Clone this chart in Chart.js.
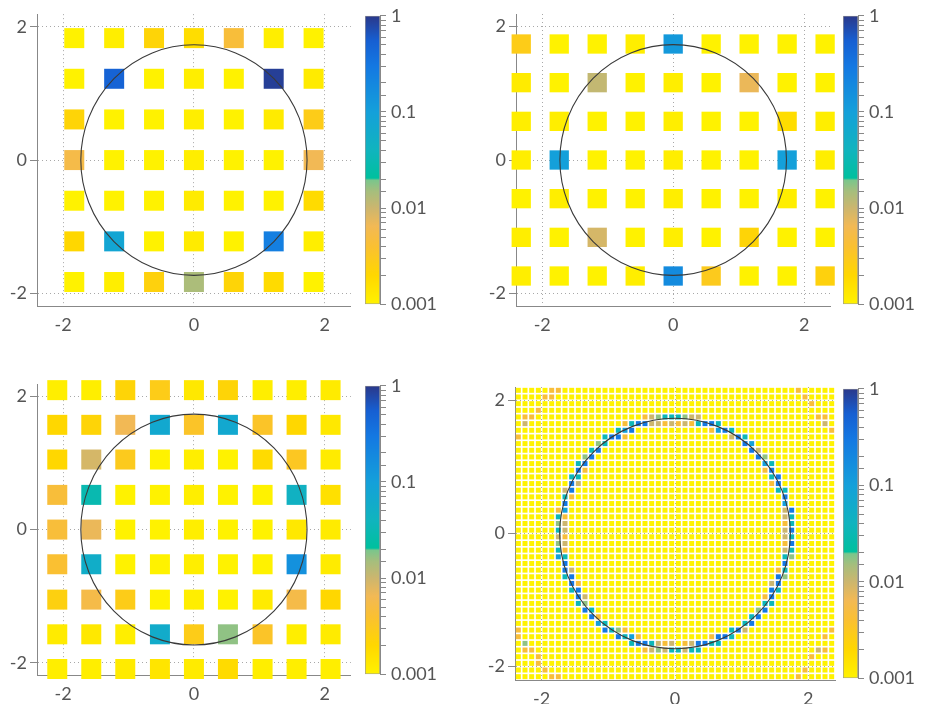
<!DOCTYPE html>
<html>

<head>
    <meta charset="UTF-8">
    <title>Mapas de error</title>
    <script src="https://cdn.jsdelivr.net/npm/chart.js@4.4.1/dist/chart.umd.min.js"></script>
    <style>
        body { margin: 0; background: #fff; width: 926px; height: 704px; overflow: hidden; position: relative; }
        canvas { position: absolute; }
    </style>
</head>

<body>
    <canvas id="m1" width="365" height="352" style="left:0px;top:0px"></canvas>
    <canvas id="c1" width="83" height="320" style="left:365px;top:0px"></canvas>
    <canvas id="m2" width="365" height="352" style="left:479px;top:0px"></canvas>
    <canvas id="c2" width="83" height="320" style="left:843px;top:0px"></canvas>
    <canvas id="m3" width="365" height="334" style="left:0px;top:370px"></canvas>
    <canvas id="c3" width="83" height="320" style="left:365px;top:370px"></canvas>
    <canvas id="m4" width="365" height="331" style="left:478px;top:373px"></canvas>
    <canvas id="c4" width="83" height="321" style="left:843px;top:373px"></canvas>

    <script>
        // colour scale (log), values and colours of the stops
        var cmapValues = [0.001, 0.002, 0.004, 0.0065, 0.01, 0.015, 0.0195, 0.0205, 0.04, 0.1, 0.3, 0.55, 1];
        var cmapColors = [[255, 242, 0], [255, 215, 0], [250, 192, 50], [242, 185, 85], [204, 182, 110], [165, 190, 125],
            [122, 198, 140], [0, 192, 158], [16, 180, 190], [20, 160, 218], [20, 120, 226], [22, 95, 210], [42, 56, 138]];
        var cbTicks = [1, 0.1, 0.01, 0.001];
        var axisTicks = [-2, -1, 0, 1, 2];
        var circleRadius = 1.73;

        // panel 1: 7 x 7
        var p1X = [-1.83, -1.22, -0.61, 0, 0.61, 1.22, 1.83];
        var p1Y = [1.83, 1.22, 0.61, 0, -0.61, -1.22, -1.83];
        var p1Values = [
            [0.001, 0.0011, 0.0022, 0.0017, 0.0045, 0.0011, 0.001],
            [0.001, 0.5, 0.001, 0.0011, 0.001, 0.9, 0.0012],
            [0.0022, 0.001, 0.001, 0.0011, 0.001, 0.0012, 0.0028],
            [0.0055, 0.001, 0.001, 0.0011, 0.001, 0.001, 0.0065],
            [0.001, 0.001, 0.001, 0.0012, 0.001, 0.001, 0.0018],
            [0.002, 0.08, 0.001, 0.0012, 0.001, 0.25, 0.0011],
            [0.001, 0.0011, 0.0024, 0.014, 0.0022, 0.0018, 0.001]
        ];

        // panel 2: 9 x 7
        var p2X = [-2.32, -1.74, -1.16, -0.58, 0, 0.58, 1.16, 1.74, 2.32];
        var p2Y = [1.74, 1.16, 0.58, 0, -0.58, -1.16, -1.74];
        var p2Values = [
            [0.0028, 0.001, 0.001, 0.0011, 0.12, 0.001, 0.001, 0.001, 0.001],
            [0.0012, 0.001, 0.011, 0.001, 0.0011, 0.001, 0.007, 0.001, 0.001],
            [0.0011, 0.0011, 0.001, 0.001, 0.0011, 0.001, 0.001, 0.0017, 0.0011],
            [0.0011, 0.1, 0.001, 0.001, 0.0011, 0.001, 0.001, 0.1, 0.0011],
            [0.001, 0.0011, 0.001, 0.001, 0.0011, 0.001, 0.001, 0.0011, 0.001],
            [0.0011, 0.001, 0.009, 0.001, 0.0011, 0.001, 0.0022, 0.001, 0.001],
            [0.0011, 0.001, 0.001, 0.0011, 0.18, 0.003, 0.001, 0.001, 0.0024]
        ];

        // panel 3: 9 x 9
        var p3X = [-2.09, -1.57, -1.05, -0.52, 0, 0.52, 1.05, 1.57, 2.09];
        var p3Y = [2.09, 1.57, 1.05, 0.52, 0, -0.52, -1.05, -1.57, -2.09];
        var p3Values = [
            [0.0011, 0.0011, 0.0022, 0.0028, 0.0013, 0.0022, 0.0011, 0.0011, 0.0012],
            [0.002, 0.0022, 0.0065, 0.07, 0.0035, 0.07, 0.0035, 0.002, 0.0013],
            [0.002, 0.009, 0.003, 0.001, 0.0011, 0.001, 0.0018, 0.0032, 0.0012],
            [0.0045, 0.03, 0.001, 0.001, 0.0011, 0.001, 0.001, 0.045, 0.0016],
            [0.0045, 0.007, 0.001, 0.001, 0.0011, 0.001, 0.001, 0.0013, 0.0012],
            [0.004, 0.055, 0.001, 0.001, 0.0011, 0.001, 0.001, 0.15, 0.0012],
            [0.0025, 0.0055, 0.0028, 0.001, 0.0011, 0.001, 0.0012, 0.0055, 0.002],
            [0.0012, 0.0013, 0.0011, 0.06, 0.0028, 0.017, 0.0035, 0.0011, 0.0012],
            [0.0011, 0.0011, 0.0012, 0.0014, 0.0012, 0.0018, 0.0011, 0.0011, 0.0011]
        ];

        // panel 4: fine 48 x 44 grid, yellow everywhere except the listed cells
        var p4X = [-2.35, -2.25, -2.15, -2.05, -1.95, -1.85, -1.75, -1.65, -1.55, -1.45, -1.35, -1.25, -1.15, -1.05, -0.95, -0.85,
            -0.75, -0.65, -0.55, -0.45, -0.35, -0.25, -0.15, -0.05, 0.05, 0.15, 0.25, 0.35, 0.45, 0.55, 0.65, 0.75, 0.85, 0.95,
            1.05, 1.15, 1.25, 1.35, 1.45, 1.55, 1.65, 1.75, 1.85, 1.95, 2.05, 2.15, 2.25, 2.35];
        var p4Y = [2.15, 2.05, 1.95, 1.85, 1.75, 1.65, 1.55, 1.45, 1.35, 1.25, 1.15, 1.05, 0.95, 0.85, 0.75, 0.65, 0.55, 0.45,
            0.35, 0.25, 0.15, 0.05, -0.05, -0.15, -0.25, -0.35, -0.45, -0.55, -0.65, -0.75, -0.85, -0.95, -1.05, -1.15, -1.25,
            -1.35, -1.45, -1.55, -1.65, -1.75, -1.85, -1.95, -2.05, -2.15];
        var p4Base = 0.001;
        var p4Cells = [
            [0.05, 1.75, 0.035], [0.15, 1.75, 0.017], [0.25, 1.75, 0.01], [0.35, 1.75, 0.01],
            [0.05, 1.65, 0.0045], [0.15, 1.65, 0.01], [0.25, 1.65, 0.0045], [0.35, 1.65, 0.035], [0.45, 1.65, 0.3], [0.55, 1.65, 0.3], [0.65, 1.65, 0.035],
            [0.55, 1.55, 0.0045], [0.65, 1.55, 0.1], [0.75, 1.55, 0.3], [0.85, 1.55, 0.035],
            [0.85, 1.45, 0.01], [0.95, 1.45, 0.3], [1.05, 1.45, 0.035],
            [1.05, 1.35, 0.3], [1.15, 1.35, 0.1],
            [1.15, 1.25, 0.3], [1.25, 1.25, 0.01],
            [1.25, 1.15, 0.3], [1.35, 1.15, 0.017],
            [1.35, 1.05, 0.1], [1.45, 1.05, 0.035],
            [1.35, 0.95, 0.0045], [1.45, 0.95, 0.3],
            [1.45, 0.85, 0.035], [1.55, 0.85, 0.3],
            [1.45, 0.75, 0.0045], [1.55, 0.75, 0.3],
            [1.55, 0.65, 0.035], [1.65, 0.65, 0.035],
            [1.65, 0.55, 0.3], [1.65, 0.45, 0.1],
            [1.65, 0.35, 0.01], [1.75, 0.35, 0.3],
            [1.65, 0.25, 0.01], [1.75, 0.25, 0.035],
            [1.65, 0.15, 0.0045], [1.75, 0.15, 0.035],
            [1.65, 0.05, 0.01], [1.75, 0.05, 0.3],

            [-0.05, 1.75, 0.035], [-0.15, 1.75, 0.035], [-0.25, 1.75, 0.017], [-0.35, 1.75, 0.01], [-0.45, 1.75, 0.0045],
            [-0.05, 1.65, 0.01], [-0.15, 1.65, 0.0045], [-0.25, 1.65, 0.01], [-0.35, 1.65, 0.01], [-0.45, 1.65, 0.3], [-0.55, 1.65, 0.3], [-0.65, 1.65, 0.035], [-0.75, 1.65, 0.0045],
            [-0.65, 1.55, 0.3], [-0.75, 1.55, 0.1], [-0.85, 1.55, 0.035],
            [-0.75, 1.45, 0.0045], [-0.85, 1.45, 0.3], [-0.95, 1.45, 0.3], [-1.05, 1.45, 0.035],
            [-1.05, 1.35, 0.035], [-1.15, 1.35, 0.017],
            [-1.15, 1.25, 0.3], [-1.25, 1.25, 0.035],
            [-1.25, 1.15, 0.3], [-1.35, 1.15, 0.017],
            [-1.35, 1.05, 0.3], [-1.45, 1.05, 0.035],
            [-1.35, 0.95, 0.0045], [-1.45, 0.95, 0.3],
            [-1.45, 0.85, 0.035], [-1.55, 0.85, 0.035],
            [-1.45, 0.75, 0.01], [-1.55, 0.75, 0.3],
            [-1.55, 0.65, 0.3], [-1.65, 0.65, 0.01],
            [-1.55, 0.55, 0.0045], [-1.65, 0.55, 0.035],
            [-1.65, 0.45, 0.3],
            [-1.65, 0.35, 0.1], [-1.75, 0.35, 0.0045],
            [-1.65, 0.25, 0.0045], [-1.75, 0.25, 0.035],
            [-1.65, 0.15, 0.01], [-1.75, 0.15, 0.017],
            [-1.65, 0.05, 0.01], [-1.75, 0.05, 0.035],

            [-1.65, -0.05, 0.0045], [-1.75, -0.05, 0.01],
            [-1.65, -0.15, 0.01], [-1.75, -0.15, 0.017],
            [-1.65, -0.25, 0.0045], [-1.75, -0.25, 0.035],
            [-1.65, -0.35, 0.035], [-1.75, -0.35, 0.1],
            [-1.65, -0.45, 0.3],
            [-1.55, -0.55, 0.01], [-1.65, -0.55, 0.3],
            [-1.55, -0.65, 0.3], [-1.65, -0.65, 0.035],
            [-1.45, -0.75, 0.0045], [-1.55, -0.75, 0.3],
            [-1.45, -0.85, 0.3], [-1.55, -0.85, 0.035],
            [-1.35, -0.95, 0.01], [-1.45, -0.95, 0.3],
            [-1.35, -1.05, 0.017], [-1.45, -1.05, 0.035],
            [-1.25, -1.15, 0.035], [-1.35, -1.15, 0.3],
            [-1.15, -1.25, 0.0045], [-1.25, -1.25, 0.3],
            [-1.05, -1.35, 0.035], [-1.15, -1.35, 0.1],
            [-0.75, -1.45, 0.0045], [-0.85, -1.45, 0.017], [-0.95, -1.45, 0.035], [-1.05, -1.45, 0.3],
            [-0.55, -1.55, 0.0045], [-0.65, -1.55, 0.1], [-0.75, -1.55, 0.035], [-0.85, -1.55, 0.3],
            [-0.05, -1.65, 0.01], [-0.15, -1.65, 0.0045], [-0.25, -1.65, 0.01], [-0.35, -1.65, 0.035], [-0.45, -1.65, 0.3], [-0.55, -1.65, 0.3], [-0.65, -1.65, 0.035],
            [-0.05, -1.75, 0.035], [-0.15, -1.75, 0.01], [-0.25, -1.75, 0.017], [-0.35, -1.75, 0.01], [-0.45, -1.75, 0.0045],

            [1.65, -0.05, 0.01], [1.75, -0.05, 0.035],
            [1.65, -0.15, 0.0045], [1.75, -0.15, 0.3],
            [1.65, -0.25, 0.01], [1.75, -0.25, 0.035],
            [1.65, -0.35, 0.035], [1.75, -0.35, 0.017],
            [1.65, -0.45, 0.3],
            [1.55, -0.55, 0.0045], [1.65, -0.55, 0.035],
            [1.55, -0.65, 0.3], [1.65, -0.65, 0.017],
            [1.45, -0.75, 0.01], [1.55, -0.75, 0.3],
            [1.45, -0.85, 0.3], [1.55, -0.85, 0.035],
            [1.35, -0.95, 0.0045], [1.45, -0.95, 0.3],
            [1.35, -1.05, 0.035], [1.45, -1.05, 0.035],
            [1.25, -1.15, 0.017], [1.35, -1.15, 0.3],
            [1.15, -1.25, 0.035], [1.25, -1.25, 0.3],
            [1.05, -1.35, 0.035], [1.15, -1.35, 0.3],
            [0.85, -1.45, 0.035], [0.95, -1.45, 0.3], [1.05, -1.45, 0.01],
            [0.55, -1.55, 0.0045], [0.65, -1.55, 0.3], [0.75, -1.55, 0.3], [0.85, -1.55, 0.035],
            [0.15, -1.65, 0.0045], [0.25, -1.65, 0.01], [0.35, -1.65, 0.3], [0.45, -1.65, 0.3], [0.55, -1.65, 0.035], [0.65, -1.65, 0.035],
            [0.05, -1.75, 0.035], [0.15, -1.75, 0.01], [0.25, -1.75, 0.035], [0.35, -1.75, 0.035],

            [-1.85, 2.15, 0.0045], [-1.75, 2.15, 0.0045], [-1.95, 2.05, 0.0045], [-1.85, 2.05, 0.0045], [-2.05, 1.85, 0.0045],
            [-2.25, 1.75, 0.0045], [-2.15, 1.75, 0.0045], [-2.25, 1.65, 0.01], [-2.35, 1.45, 0.0045],
            [1.85, 2.15, 0.0045], [1.95, 2.05, 0.0045], [2.05, 1.95, 0.0045], [2.15, 1.75, 0.0045], [2.25, 1.75, 0.0045],
            [2.25, 1.65, 0.01], [2.35, 1.55, 0.0045],
            [-2.35, -1.45, 0.0045], [-2.35, -1.55, 0.0045], [-2.25, -1.65, 0.017], [-2.25, -1.75, 0.0045], [-2.15, -1.75, 0.0045],
            [-2.05, -1.85, 0.0045], [-2.05, -1.95, 0.0045], [-1.95, -2.05, 0.0045], [-1.85, -2.15, 0.0045], [-1.75, -2.15, 0.0045],
            [2.35, -1.45, 0.0045], [2.25, -1.55, 0.0045], [2.15, -1.75, 0.01], [2.25, -1.75, 0.0045], [2.05, -1.85, 0.0045],
            [1.95, -2.05, 0.0045], [1.85, -2.15, 0.0045]
        ];

        function logPos(v) {
            return Math.log10(v);
        }

        function colorFor(v) {
            var n = cmapValues.length;
            var t = logPos(Math.min(Math.max(v, cmapValues[0]), cmapValues[n - 1]));
            for (var i = 0; i < n - 1; i++) {
                var a = logPos(cmapValues[i]), b = logPos(cmapValues[i + 1]);
                if (t <= b) {
                    var f = (t - a) / (b - a);
                    var c0 = cmapColors[i], c1 = cmapColors[i + 1];
                    return 'rgb(' + Math.round(c0[0] + (c1[0] - c0[0]) * f) + ',' +
                        Math.round(c0[1] + (c1[1] - c0[1]) * f) + ',' +
                        Math.round(c0[2] + (c1[2] - c0[2]) * f) + ')';
                }
            }
            var c = cmapColors[n - 1];
            return 'rgb(' + c[0] + ',' + c[1] + ',' + c[2] + ')';
        }

        function gridPoints(xs, ys, vals) {
            var pts = [];
            ys.forEach(function (y, i) {
                xs.forEach(function (x, j) { pts.push({ x: x, y: y, v: vals[i][j] }); });
            });
            return pts;
        }

        function cellKey(x, y) {
            return Math.round(x * 100) + ',' + Math.round(y * 100);
        }

        var p4Marked = {};
        p4Cells.forEach(function (c) { p4Marked[cellKey(c[0], c[1])] = c[2]; });
        var p4Points = [];
        p4Y.forEach(function (y) {
            p4X.forEach(function (x) {
                var k = cellKey(x, y);
                p4Points.push({ x: x, y: y, v: (k in p4Marked) ? p4Marked[k] : p4Base });
            });
        });

        var labelFont = { family: 'Lato', size: 18 };
        var labelColor = '#555';

        var ringPlugin = {
            id: 'ring',
            afterDatasetsDraw: function (chart) {
                var x = chart.scales.x, y = chart.scales.y, ctx = chart.ctx;
                var cx = x.getPixelForValue(0), cy = y.getPixelForValue(0);
                var rx = Math.abs(x.getPixelForValue(circleRadius) - cx);
                var ry = Math.abs(y.getPixelForValue(circleRadius) - cy);
                ctx.save();
                ctx.strokeStyle = '#3a3a3a';
                ctx.lineWidth = 1.1;
                ctx.beginPath();
                ctx.ellipse(cx, cy, rx, ry, 0, 0, Math.PI * 2);
                ctx.stroke();
                ctx.restore();
            }
        };

        function isEven(c) {
            return c.tick && Math.abs(c.tick.value % 2) < 1e-9;
        }

        function axisOpts(min, max, horizontal, size) {
            return {
                type: 'linear', min: min, max: max, z: 1,
                afterFit: function (s) { if (horizontal) s.height = size; else s.width = size; },
                afterBuildTicks: function (s) { s.ticks = axisTicks.map(function (v) { return { value: v }; }); },
                ticks: {
                    autoSkip: false, maxRotation: 0, padding: 3,
                    color: labelColor, font: labelFont,
                    callback: function (v) { return Math.abs(v % 2) < 1e-9 ? String(v) : ''; }
                },
                grid: {
                    lineWidth: 1, tickLength: horizontal ? 5 : 7,
                    color: function (c) { return isEven(c) ? '#a8a8a8' : 'rgba(0,0,0,0)'; },
                    tickColor: function (c) { return (!horizontal && isEven(c)) ? '#888' : 'rgba(0,0,0,0)'; }
                },
                border: { display: true, color: '#888', width: 1, dash: [1, 3] }
            };
        }

        function mainChart(id, points, yMax, side, xAxisH) {
            var r = side / Math.SQRT2;
            return new Chart(document.getElementById(id), {
                type: 'scatter',
                data: {
                    datasets: [{
                        data: points,
                        pointStyle: 'rect',
                        pointRadius: r,
                        pointHoverRadius: r,
                        borderWidth: 0,
                        clip: false,
                        backgroundColor: function (c) { return colorFor(c.raw ? c.raw.v : cmapValues[0]); }
                    }]
                },
                options: {
                    responsive: false, animation: false, events: [],
                    layout: { padding: { top: 14, right: 8, left: 0, bottom: 0 } },
                    plugins: { legend: { display: false }, tooltip: { enabled: false } },
                    scales: {
                        x: axisOpts(-2.4, 2.4, true, xAxisH),
                        y: axisOpts(-yMax, yMax, false, 37)
                    }
                },
                plugins: [ringPlugin]
            });
        }

        function isPow10(v) {
            var l = Math.log10(v);
            return Math.abs(l - Math.round(l)) < 1e-6;
        }

        function colorBar(id) {
            return new Chart(document.getElementById(id), {
                type: 'bar',
                data: {
                    labels: [''],
                    datasets: [{
                        data: [[cmapValues[0], cmapValues[cmapValues.length - 1]]],
                        barPercentage: 1, categoryPercentage: 1,
                        borderWidth: 1, borderColor: '#9a9a9a', borderSkipped: false,
                        backgroundColor: function (c) {
                            var chart = c.chart, ys = chart.scales.y;
                            if (!chart.chartArea || !ys) return '#ccc';
                            var p0 = ys.getPixelForValue(cmapValues[0]);
                            var p1 = ys.getPixelForValue(cmapValues[cmapValues.length - 1]);
                            var g = chart.ctx.createLinearGradient(0, p0, 0, p1);
                            cmapValues.forEach(function (v, i) {
                                var off = (ys.getPixelForValue(v) - p0) / (p1 - p0);
                                var col = cmapColors[i];
                                g.addColorStop(Math.min(Math.max(off, 0), 1), 'rgb(' + col[0] + ',' + col[1] + ',' + col[2] + ')');
                            });
                            return g;
                        }
                    }]
                },
                options: {
                    responsive: false, animation: false, events: [],
                    layout: { padding: { top: 14, right: 0, left: 0, bottom: 14 } },
                    plugins: { legend: { display: false }, tooltip: { enabled: false } },
                    scales: {
                        x: { display: false },
                        y: {
                            type: 'logarithmic', position: 'right', min: cbTicks[3], max: cbTicks[0],
                            afterFit: function (s) { s.width = 68; },
                            ticks: {
                                autoSkip: false, padding: 5, color: labelColor, font: labelFont,
                                callback: function (v) { return isPow10(v) ? String(Number(v.toPrecision(3))) : ''; }
                            },
                            grid: { drawOnChartArea: false, tickLength: 6, tickColor: '#888', color: '#888' },
                            border: { display: true, color: '#888', width: 1 }
                        }
                    }
                }
            });
        }

        mainChart('m1', gridPoints(p1X, p1Y, p1Values), 2.19, 20, 46);
        mainChart('m2', gridPoints(p2X, p2Y, p2Values), 2.19, 19.3, 46);
        mainChart('m3', gridPoints(p3X, p3Y, p3Values), 2.18, 20, 29);
        mainChart('m4', p4Points, 2.2, 5, 24);
        colorBar('c1');
        colorBar('c2');
        colorBar('c3');
        colorBar('c4');
    </script>
</body>

</html>
